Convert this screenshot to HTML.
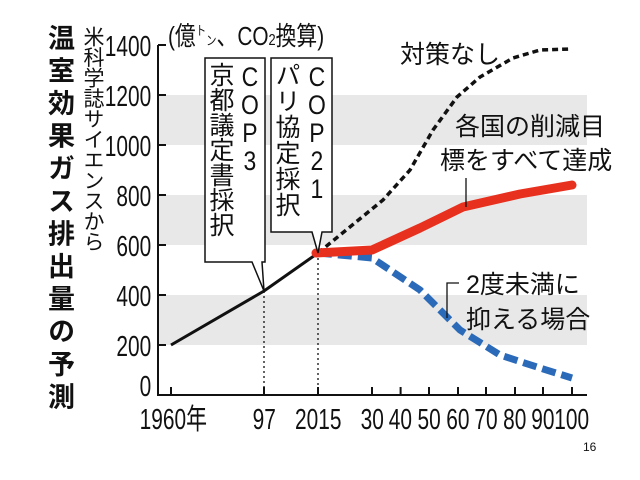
<!DOCTYPE html>
<html><head><meta charset="utf-8"><style>
html,body{margin:0;padding:0;background:#fff;width:640px;height:480px;overflow:hidden}
svg{position:absolute;left:0;top:0}
.v{position:absolute;writing-mode:vertical-rl;text-orientation:upright;font-family:"Liberation Sans","Noto Sans CJK JP",sans-serif;color:#111;line-height:1}
</style></head><body>
<svg width="640" height="480" viewBox="0 0 640 480" font-family="'Liberation Sans','Noto Sans CJK JP',sans-serif">
<rect x="159" y="295" width="428" height="50" fill="#e8e8e8"/>
<rect x="159" y="195" width="428" height="50" fill="#e8e8e8"/>
<rect x="159" y="95" width="428" height="50" fill="#e8e8e8"/>
<path d="M158 45 V395 H587" fill="none" stroke="#111" stroke-width="2"/>
<g stroke="#111" stroke-width="2">
<path d="M158 45h8M158 95h8M158 145h8M158 195h8M158 245h8M158 295h8M158 345h8"/>
<path d="M171 395v-8M264 395v-8M318 395v-8M372 395v-8M400.6 395v-8M429 395v-8M458 395v-8M486 395v-8M515 395v-8M543 395v-8M572 395v-8"/>
</g>
<g font-size="29" fill="#111" text-anchor="end" transform="scale(0.72,1)">
<text x="210" y="56">1400</text><text x="210" y="106">1200</text><text x="210" y="156">1000</text>
<text x="210" y="206">800</text><text x="210" y="256">600</text><text x="210" y="306">400</text>
<text x="210" y="356">200</text><text x="210" y="396">0</text>
</g>
<g font-size="29" fill="#111" text-anchor="middle" transform="scale(0.72,1)">
<text x="194" y="429" text-anchor="start">1960年</text><text x="367" y="429">97</text><text x="442" y="429">2015</text>
<text x="517" y="429">30</text><text x="556" y="429">40</text><text x="596" y="429">50</text><text x="636" y="429">60</text>
<text x="675" y="429">70</text><text x="715" y="429">80</text><text x="754" y="429">90</text><text x="794" y="429">100</text>
</g>
<text x="168" y="45" font-size="26" fill="#111" transform="translate(168,0) scale(0.8,1) translate(-168,0)">(億<tspan font-size="13" dy="-10">ト</tspan><tspan font-size="13" dy="10">ン</tspan>、CO<tspan font-size="16">2</tspan>換算)</text>
<path d="M264 291V395M318 253V395" stroke="#111" stroke-width="1.3" stroke-dasharray="2 3"/>
<polyline points="171,345 264,291 318,253" fill="none" stroke="#111" stroke-width="3"/>
<polyline points="318,253 383,200 410,170 433,130 457,97 480,77 513,58 540,50 572,49" fill="none" stroke="#111" stroke-width="3.5" stroke-dasharray="6 4"/>
<polyline points="318,253 372,258 420,290 460,330 500,355 540,368 572,378" fill="none" stroke="#2a6ab8" stroke-width="7" stroke-dasharray="14 6"/>
<polyline points="316,253 372,250 420,228 463,207 520,194 572,185" fill="none" stroke="#e8301f" stroke-width="9" stroke-linecap="round" stroke-linejoin="round"/>
<path d="M205 58H265V262H262L264 291L252 262H205Z" fill="#fff" stroke="#111" stroke-width="1.5"/>
<path d="M271 58H332V232H322L318 253L312 232H271Z" fill="#fff" stroke="#111" stroke-width="1.5"/>
<g font-size="25" fill="#111">
<text x="400" y="63">対策なし</text>
<text x="455" y="135">各国の削減目</text>
<text x="440" y="169">標をすべて達成</text>
<text x="466" y="293">2度未満に</text>
<text x="466" y="328">抑える場合</text>
</g>
<path d="M466 178V207" stroke="#111" stroke-width="1.3"/>
<path d="M459 283H447V318" fill="none" stroke="#111" stroke-width="1.3"/>
<text x="583" y="451" font-size="12" fill="#111">16</text>
</svg>
<div class="v" style="left:45px;top:24px;font-size:27px;font-weight:bold;letter-spacing:5.6px">温室効果ガス排出量の予測</div>
<div class="v" style="left:82px;top:26px;font-size:21px;letter-spacing:-0.5px">米科学誌サイエンスから</div>
<div class="v" style="left:236px;top:62px;font-size:27px;letter-spacing:-2px;transform:scaleX(0.85)">COP3</div>
<div class="v" style="left:207px;top:62px;font-size:25px;letter-spacing:0px">京都議定書採択</div>
<div class="v" style="left:303px;top:62px;font-size:27px;letter-spacing:-2px;transform:scaleX(0.85)">COP21</div>
<div class="v" style="left:273px;top:62px;font-size:25px;letter-spacing:1px">パリ協定採択</div>
</body></html>
